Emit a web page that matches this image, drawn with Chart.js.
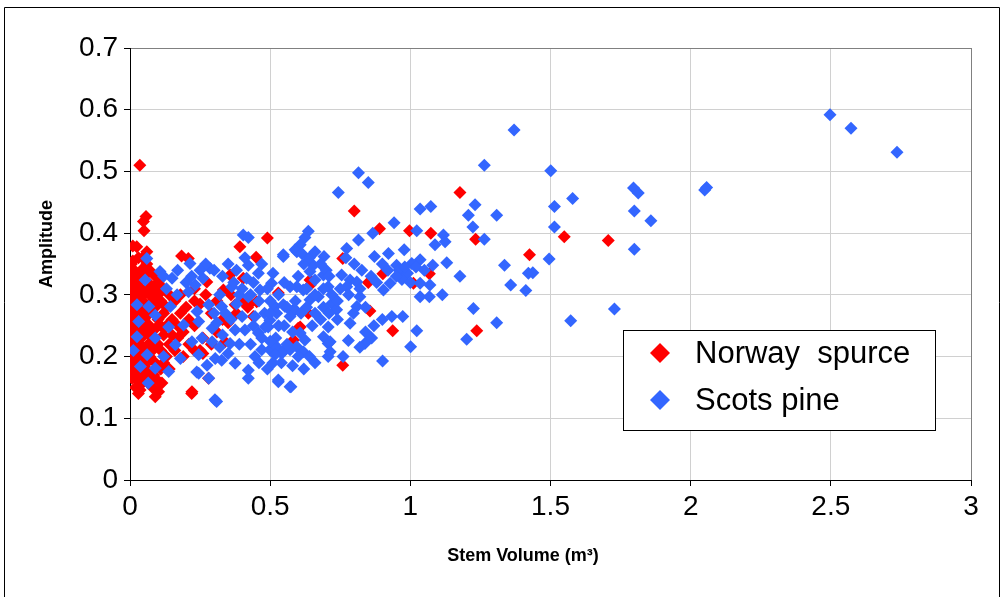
<!DOCTYPE html>
<html><head><meta charset="utf-8">
<script src="https://cdn.jsdelivr.net/npm/chart.js@4.4.0/dist/chart.umd.min.js"></script>
<style>html,body{margin:0;padding:0;background:#fff}#wrap{position:relative;width:1003px;height:597px}canvas{display:block}</style>
</head><body><div id="wrap"><canvas id="c" width="1003" height="597"></canvas></div>
<script>
const seriesNames = ['Norway  spurce', 'Scots pine'];
const xTitle = 'Stem Volume (m\u00B3)';
const yTitle = 'Amplitude';
const xTicks = [0, 0.5, 1, 1.5, 2, 2.5, 3];
const yTicks = [0, 0.1, 0.2, 0.3, 0.4, 0.5, 0.6, 0.7];

// Norway spruce: [stem volume, amplitude]
const spruce = [
[0.035,0.51],[0.057,0.427],[0.048,0.419],[0.05,0.404],[0.01,0.379],[0.024,0.378],[0.06,0.37],[0.01,0.355],
[0.392,0.378],[0.49,0.392],[0.184,0.363],[0.208,0.359],[0.45,0.361],[0.274,0.321],[0.357,0.332],[0.404,0.327],
[0.28,0.165],[0.22,0.14],[0.036,0.146],[0.107,0.157],[1.177,0.466],[1.233,0.39],[1.073,0.40],[0.997,0.404],
[0.89,0.407],[1.068,0.334],[1.011,0.319],[0.902,0.334],[1.237,0.242],[0.937,0.242],[1.549,0.394],[1.706,0.388],
[1.425,0.365],[0.8,0.436],[0.759,0.359],[0.85,0.32],[0.642,0.324],[0.643,0.316],[0.636,0.27],[0.856,0.274],
[0.607,0.248],[0.583,0.227],[0.759,0.186],[0.428,0.286],[0.333,0.308],[0.375,0.284],[0.452,0.289],[0.529,0.303],
[0.6,0.246],[0.339,0.224],[0.221,0.143],[0.102,0.143],[0.114,0.157],[0.007,0.165],[0.085,0.17],[0.043,0.194],
[0.0,0.33],[0.0,0.31],[0.0,0.29],[0.0,0.27],[0.0,0.25],[0.0,0.22],[0.0,0.20],
[0.005,0.35],[0.005,0.30],[0.005,0.26],[0.005,0.23],[0.005,0.18],
[0.01,0.32],[0.01,0.28],[0.01,0.24],[0.01,0.21],[0.01,0.19],
[0.015,0.34],[0.015,0.30],[0.015,0.26],[0.015,0.22],[0.015,0.17],
[0.02,0.31],[0.02,0.27],[0.02,0.25],[0.02,0.23],[0.02,0.20],[0.02,0.15],
[0.025,0.33],[0.025,0.29],[0.025,0.21],[0.025,0.18],
[0.03,0.36],[0.03,0.32],[0.03,0.28],[0.03,0.24],[0.03,0.16],[0.03,0.14],
[0.035,0.30],[0.035,0.26],[0.035,0.22],[0.035,0.19],
[0.04,0.34],[0.04,0.31],[0.04,0.27],[0.04,0.23],[0.04,0.20],[0.04,0.155],
[0.045,0.36],[0.045,0.29],[0.045,0.25],[0.045,0.17],
[0.05,0.33],[0.05,0.30],[0.05,0.26],[0.05,0.21],[0.05,0.185],
[0.06,0.35],[0.06,0.31],[0.06,0.28],[0.06,0.24],[0.06,0.19],[0.06,0.16],
[0.065,0.32],[0.065,0.22],
[0.07,0.34],[0.07,0.30],[0.07,0.27],[0.07,0.25],[0.07,0.20],[0.07,0.175],
[0.08,0.31],[0.08,0.29],[0.08,0.23],[0.08,0.21],[0.08,0.15],
[0.09,0.33],[0.09,0.28],[0.09,0.245],[0.09,0.19],[0.09,0.165],[0.09,0.135],
[0.10,0.32],[0.10,0.30],[0.10,0.26],[0.10,0.22],
[0.11,0.29],[0.11,0.25],[0.11,0.21],[0.11,0.18],
[0.12,0.31],[0.12,0.27],[0.12,0.235],[0.12,0.19],
[0.13,0.28],[0.13,0.25],[0.13,0.20],
[0.14,0.30],[0.14,0.22],[0.14,0.18],
[0.15,0.26],[0.15,0.235],[0.16,0.29],[0.16,0.21],[0.17,0.25],[0.17,0.23],
[0.18,0.30],[0.18,0.27],[0.19,0.24],[0.19,0.20],[0.2,0.28],
[0.21,0.26],[0.21,0.22],[0.23,0.31],[0.23,0.29],[0.23,0.25],[0.23,0.21],
[0.25,0.285],[0.25,0.21],[0.26,0.23],[0.26,0.205],[0.27,0.30],[0.29,0.27],[0.29,0.22],
[0.31,0.29],[0.31,0.24],[0.33,0.26],[0.35,0.255],[0.36,0.30],[0.38,0.27],[0.40,0.29],[0.42,0.28],[0.44,0.265]
];

// Scots pine: [stem volume, amplitude]
const pine = [
[0.404,0.397],[0.422,0.393],[0.06,0.359],[0.285,0.343],[0.214,0.351],[0.107,0.338],[0.054,0.324],[0.422,0.348],
[0.303,0.13],[0.422,0.165],[0.238,0.175],[0.065,0.157],[0.012,0.21],
[0.15,0.327],[0.233,0.316],[0.26,0.327],[0.168,0.3],[0.209,0.305],[0.025,0.284],[0.067,0.281],[0.144,0.281],
[0.239,0.273],[0.281,0.284],[0.09,0.267],[0.138,0.248],[0.031,0.257],[0.191,0.251],[0.245,0.257],[0.293,0.246],
[0.025,0.232],[0.09,0.23],[0.162,0.219],[0.221,0.224],[0.257,0.23],[0.293,0.224],[0.061,0.203],
[0.12,0.2],[0.18,0.197],[0.245,0.203],[0.037,0.184],[0.09,0.181],[0.138,0.176],[0.275,0.186],[0.304,0.197],
[0.245,0.173],[0.281,0.165],
[0.547,0.365],[0.595,0.37],[0.458,0.335],[0.416,0.327],[0.505,0.319],[0.464,0.308],[0.422,0.297],[0.363,0.313],
[0.327,0.281],[0.553,0.281],[0.589,0.276],[0.517,0.281],[0.446,0.265],[0.482,0.248],[0.458,0.238],[0.41,0.243],
[0.375,0.243],[0.357,0.221],[0.327,0.194],[0.375,0.189],[0.422,0.178],[0.47,0.211],[0.446,0.2],[0.499,0.211],
[0.523,0.216],[0.553,0.211],[0.707,0.221],[0.707,0.2],[0.529,0.159],[0.574,0.151],[0.309,0.127],
[0.815,0.498],[0.85,0.482],[0.743,0.466],[0.942,0.417],[0.866,0.40],[0.815,0.389],[0.773,0.375],[0.636,0.403],
[0.624,0.393],[0.607,0.381],[0.589,0.373],[0.547,0.362],[0.613,0.367],[0.692,0.362],[0.872,0.362],[0.922,0.367],
[0.951,0.348],[0.928,0.319],[0.904,0.308],[0.827,0.34],[0.755,0.332],[0.785,0.324],[0.809,0.321],[0.773,0.313],
[0.654,0.348],[0.642,0.338],[0.69,0.332],[0.66,0.324],[0.707,0.313],[0.618,0.308],[0.595,0.313],[0.571,0.313],
[0.672,0.297],[0.642,0.292],[0.72,0.286],[0.737,0.276],[0.82,0.297],[0.809,0.281],[0.797,0.27],[0.785,0.254],
[0.934,0.265],[0.547,0.284],[0.583,0.276],[0.523,0.27],[0.499,0.259],[0.571,0.265],[0.493,0.248],[0.607,0.238],
[0.624,0.227],[0.595,0.216],[0.571,0.211],[0.541,0.205],[0.517,0.203],[0.618,0.208],[0.707,0.248],[0.69,0.232],
[0.714,0.224],[0.714,0.208],[0.779,0.226],[0.838,0.221],[0.862,0.23],[0.901,0.193],[0.529,0.162],[0.571,0.151],
[1.264,0.51],[1.035,0.439],[1.073,0.443],[1.023,0.404],[1.231,0.446],[1.207,0.429],[1.308,0.429],[1.223,0.41],
[1.264,0.39],[1.118,0.397],[1.088,0.381],[1.124,0.386],[0.978,0.373],[1.336,0.348],[1.421,0.335],[1.358,0.316],
[1.412,0.307],[1.177,0.33],[1.13,0.352],[1.035,0.357],[1.005,0.351],[0.96,0.34],[0.99,0.335],[1.02,0.345],
[1.05,0.34],[1.08,0.348],[0.97,0.325],[1.035,0.319],[1.07,0.316],[1.035,0.297],[1.068,0.297],[1.114,0.3],
[1.225,0.278],[1.308,0.255],[1.201,0.228],[0.973,0.265],[1.023,0.242],[1.001,0.216],
[1.501,0.501],[1.579,0.456],[1.514,0.443],[1.514,0.41],[1.796,0.473],[1.813,0.465],[1.799,0.436],[1.858,0.42],
[1.799,0.374],[1.495,0.358],[1.437,0.336],[1.728,0.277],[1.572,0.258],[2.057,0.474],[2.05,0.47],
[2.497,0.592],[2.572,0.57],[2.736,0.531],[1.37,0.567],
[0.33,0.33],[0.35,0.35],[0.37,0.32],[0.39,0.30],[0.32,0.30],[0.34,0.27],[0.36,0.26],[0.38,0.285],[0.40,0.265],
[0.31,0.255],[0.33,0.235],[0.39,0.22],[0.35,0.205],[0.43,0.22],[0.48,0.27],[0.50,0.29],[0.47,0.35],[0.51,0.335],
[0.53,0.30],[0.55,0.32],[0.44,0.32],[0.41,0.36],[0.38,0.34],[0.30,0.34],[0.27,0.35],[0.25,0.34],[0.22,0.33],
[0.20,0.32],[0.17,0.34],[0.13,0.31],[0.30,0.27],[0.32,0.215],
[0.12,0.33],[0.6,0.33],[0.62,0.35],[0.64,0.36],[0.66,0.37],[0.68,0.35],[0.70,0.34],[0.72,0.30],[0.75,0.31],
[0.74,0.29],[0.63,0.28],[0.66,0.27],[0.68,0.26],[0.65,0.25],[0.55,0.25],[0.58,0.24],[0.52,0.23],[0.56,0.22],
[0.6,0.2],[0.64,0.2],[0.66,0.19],[0.58,0.185],[0.54,0.19],[0.62,0.18],[0.74,0.26],[0.78,0.30],[0.82,0.31],
[0.86,0.33],[0.88,0.32],[0.8,0.35],[0.77,0.36],[0.9,0.35],[0.92,0.34],[0.95,0.33],[0.98,0.345],[1.0,0.32],
[0.84,0.28],[0.87,0.25],[0.82,0.215],[0.84,0.24],[0.9,0.26],[0.76,0.2],[0.71,0.33],[0.69,0.31],[0.4,0.31],
[0.43,0.30],[0.46,0.29],[0.49,0.31],[0.5,0.27],[0.44,0.25],[0.47,0.23],[0.5,0.225],[0.46,0.19],[0.49,0.18],
[0.51,0.19],[0.53,0.25],[0.56,0.28],
[0.59,0.29],[0.61,0.27],[0.63,0.31],[0.66,0.3],[0.69,0.28],[0.71,0.27]
];

const colors = ['#FF0000', '#3366FF'];
const fontFamily = '"Liberation Sans", Arial, sans-serif';
const toPts = arr => arr.map(p => ({x: p[0], y: p[1]}));

const frame = {
  id: 'frame',
  beforeDraw(chart) {
    const ctx = chart.ctx;
    ctx.save();
    ctx.fillStyle = '#fff';
    ctx.fillRect(0, 0, chart.width, chart.height);
    ctx.strokeStyle = '#000';
    ctx.lineWidth = 1;
    ctx.beginPath();
    ctx.moveTo(4.5, 600); ctx.lineTo(4.5, 7.5); ctx.lineTo(999.5, 7.5); ctx.lineTo(999.5, 600);
    ctx.stroke();
    ctx.restore();
  },
  afterDraw(chart) {
    const ctx = chart.ctx;
    ctx.save();
    // axis titles
    ctx.fillStyle = '#000';
    ctx.font = 'bold 18px ' + fontFamily;
    ctx.textAlign = 'center';
    ctx.textBaseline = 'middle';
    ctx.fillText(xTitle, 523, 556);
    ctx.save();
    ctx.translate(47, 244);
    ctx.rotate(-Math.PI / 2);
    ctx.fillText(yTitle, 0, 0);
    ctx.restore();
    // legend
    const bx = 623.5, by = 330.5, bw = 312, bh = 100;
    ctx.fillStyle = '#fff';
    ctx.fillRect(bx, by, bw, bh);
    ctx.strokeStyle = '#000';
    ctx.lineWidth = 1;
    ctx.strokeRect(bx, by, bw, bh);
    const rows = [353, 400];
    ctx.font = '31px ' + fontFamily;
    ctx.textBaseline = 'middle';
    ctx.textAlign = 'left';
    seriesNames.forEach((name, i) => {
      const cx = 660, cy = rows[i], r = 10;
      ctx.fillStyle = colors[i];
      ctx.beginPath();
      ctx.moveTo(cx, cy - r); ctx.lineTo(cx + r, cy); ctx.lineTo(cx, cy + r); ctx.lineTo(cx - r, cy);
      ctx.closePath(); ctx.fill();
      ctx.fillStyle = '#000';
      ctx.fillText(name, 695, cy + 1);
    });
    ctx.restore();
  }
};

const gridColor = (max) => (c) => (Math.abs(c.tick.value - max) < 1e-9 ? '#808080' : '#D0D0D0');

new Chart(document.getElementById('c'), {
  type: 'scatter',
  data: {
    datasets: [
      {label: seriesNames[0], data: toPts(spruce), backgroundColor: colors[0], borderWidth: 0,
       pointStyle: 'rectRot', pointRadius: 6.5, order: 2},
      {label: seriesNames[1], data: toPts(pine), backgroundColor: colors[1], borderWidth: 0,
       pointStyle: 'rectRot', pointRadius: 6.5, order: 1}
    ]
  },
  options: {
    responsive: false,
    animation: false,
    devicePixelRatio: 1,
    events: [],
    layout: {padding: {left: 0, top: 48, right: 32, bottom: 0}},
    plugins: {legend: {display: false}, tooltip: {enabled: false}},
    scales: {
      x: {
        type: 'linear', min: 0, max: 3,
        afterBuildTicks: s => { s.ticks = xTicks.map(v => ({value: v})); },
        afterFit: s => { s.height = 117; },
        ticks: {color: '#000', font: {family: fontFamily, size: 28}, padding: 4,
                callback: v => String(Math.round(v * 10) / 10), maxRotation: 0},
        grid: {color: gridColor(3), tickColor: '#000', tickLength: 6, lineWidth: 1},
        border: {color: '#000', width: 1}
      },
      y: {
        type: 'linear', min: 0, max: 0.7,
        afterBuildTicks: s => { s.ticks = yTicks.map(v => ({value: v})); },
        afterFit: s => { s.width = 130; },
        ticks: {color: '#000', font: {family: fontFamily, size: 28}, padding: 6,
                callback: v => String(Math.round(v * 10) / 10)},
        grid: {color: gridColor(0.7), tickColor: '#000', tickLength: 6, lineWidth: 1},
        border: {color: '#000', width: 1}
      }
    }
  },
  plugins: [frame]
});
</script>
</body></html>
